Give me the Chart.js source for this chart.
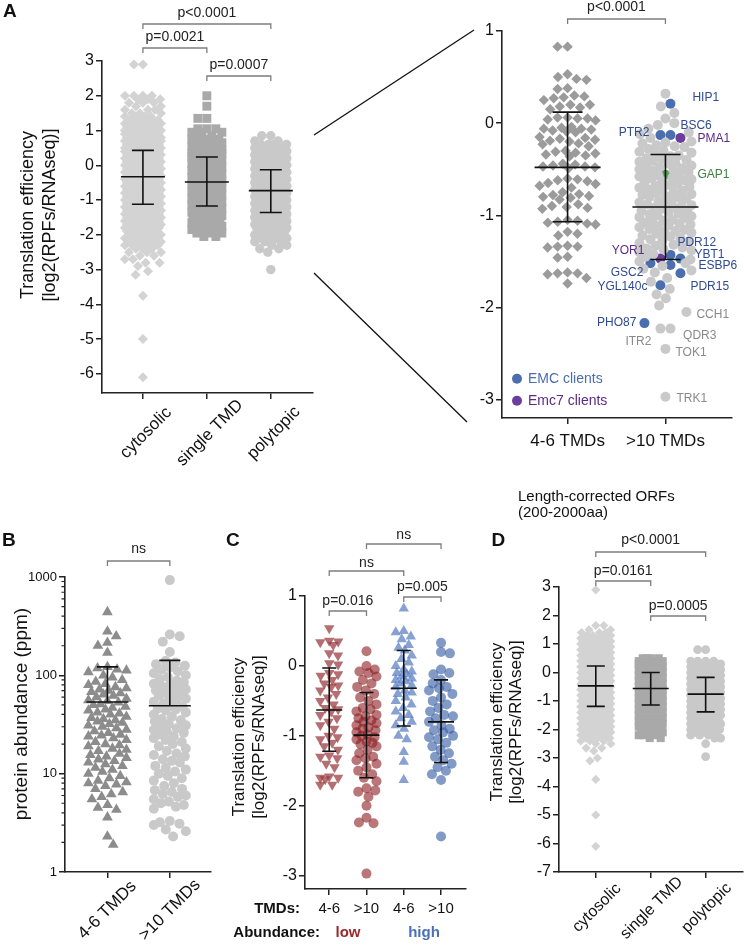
<!DOCTYPE html>
<html><head><meta charset="utf-8">
<script src="https://cdn.jsdelivr.net/npm/chart.js@4.4.0/dist/chart.umd.min.js"></script>
<style>
html,body{margin:0;padding:0;background:#fff;}
#wrap{position:relative;width:744px;height:948px;overflow:hidden;background:#fff;}
#wrap canvas{position:absolute;}
#wrap svg{position:absolute;left:0;top:0;pointer-events:none;}
</style></head>
<body><div id="wrap">
<svg width="744" height="948"><line x1="314" y1="135" x2="474" y2="30" stroke="#111" stroke-width="1.3"/><line x1="314" y1="273" x2="467" y2="422" stroke="#111" stroke-width="1.3"/></svg>
</div>
<script>
// ---------------- DATA ----------------
// Panel A (left) : translation efficiency, value levels and how many genes sit at each level
const aCats = ['cytosolic', 'single TMD', 'polytopic'];
const aTicksY = [3, 2, 1, 0, -1, -2, -3, -4, -5, -6];
const aCytoVal = [2.9, 2.0,1.9,1.8,1.7,1.6,1.5,1.4,1.3,1.2,1.1,1.0,0.9,0.8,0.7,0.6,0.5,0.4,0.3,0.2,0.1,0.0,-0.1,-0.2,-0.3,-0.4,-0.5,-0.6,-0.7,-0.8,-0.9,-1.0,-1.1,-1.2,-1.3,-1.4,-1.5,-1.6,-1.7,-1.8,-1.9,-2.0,-2.1,-2.2,-2.3,-2.4,-2.5,-2.6,-2.7,-2.8,-2.9,-3.05,-3.15,-3.75,-5.0,-6.1];
const aCytoN = [2, 4,3,3,2,3,3,4,5,7,8,9,9, 10,10,10,10,10,10,10,10,10,10,10,10,10,10,10,10,10,10,10,10,10,10,10,10,10, 9,9,8,8,7,6,5,3,3,2,2,2,1, 1,1,1,1,1];
const aSingleVal = [2.0,1.7,1.35,1.05,0.95,0.85,0.75,0.65,0.55,0.45,0.35,0.25,0.15,0.05,-0.05,-0.15,-0.25,-0.35,-0.45,-0.55,-0.65,-0.75,-0.85,-0.95,-1.05,-1.15,-1.25,-1.35,-1.45,-1.55,-1.65,-1.75,-1.85,-1.95,-2.05];
const aSingleN = [1,1,2, 3,3,2,3,4,6,7,8, 9,9,9,9,9,9,9,9,9,9,9,9,9,9,9,9,9,9, 7,6,4,4,3,2];
const aPolyVal = [0.85,0.7,0.6,0.5,0.4,0.3,0.2,0.1,0.0,-0.1,-0.2,-0.3,-0.4,-0.5,-0.6,-0.7,-0.8,-0.9,-1.0,-1.1,-1.2,-1.3,-1.4,-1.5,-1.6,-1.7,-1.8,-1.9,-2.0,-2.1,-2.2,-2.3,-2.4,-2.5,-3.0];
const aPolyN = [2, 2,4,5,6,8, 9,9,9,9,9,9,9,9,9,9,9,9,9,9,9,9,9,9,9, 8,7,6,6,4,3,2,2,1, 1];
const aMean = [-0.33, -0.48, -0.73];
const aSdHi = [0.43, 0.24, -0.13];
const aSdLo = [-1.12, -1.17, -1.36];

// Panel A (right)
const arCats = ['4-6 TMDs', '>10 TMDs'];
const arTicksY = [1, 0, -1, -2, -3];
const arTmd46 = [0.83,0.83,0.53,0.50,0.48,0.47,0.38,0.37,0.30,0.28,0.27,0.25,0.29,0.20,0.18,0.15,0.17,0.20,0.06,0.05,0.04,0.06,0.05,0.03,-0.05,-0.06,-0.08,-0.10,-0.04,-0.07,-0.09,-0.06,-0.15,-0.18,-0.20,-0.22,-0.25,-0.17,-0.19,-0.23,-0.16,-0.30,-0.32,-0.35,-0.33,-0.31,-0.36,-0.34,-0.45,-0.47,-0.48,-0.46,-0.49,-0.47,-0.44,-0.60,-0.62,-0.65,-0.68,-0.70,-0.63,-0.66,-0.61,-0.75,-0.78,-0.80,-0.83,-0.77,-0.81,-0.79,-0.90,-0.92,-0.88,-0.91,-0.93,-1.05,-1.07,-1.10,-1.08,-1.06,-1.09,-1.20,-1.22,-1.18,-1.34,-1.33,-1.35,-1.34,-1.45,-1.46,-1.63,-1.62,-1.64,-1.63,-1.68,-1.74];
const arTmd10 = [0.32,0.18,0.11,0.05,0.00,-0.02,-0.06,-0.10,-0.12,-0.16,-0.20,-0.22,-0.24,-0.21,-0.25,-0.26,-0.30,-0.32,-0.28,-0.35,-0.33,-0.31,-0.36,-0.40,-0.42,-0.38,-0.44,-0.41,-0.39,-0.43,-0.46,-0.48,-0.50,-0.52,-0.47,-0.49,-0.51,-0.53,-0.56,-0.55,-0.58,-0.60,-0.57,-0.62,-0.59,-0.61,-0.63,-0.67,-0.65,-0.68,-0.70,-0.66,-0.72,-0.69,-0.71,-0.73,-0.76,-0.75,-0.78,-0.80,-0.77,-0.82,-0.79,-0.81,-0.83,-0.86,-0.85,-0.88,-0.90,-0.87,-0.92,-0.89,-0.91,-0.93,-0.96,-0.95,-0.98,-1.00,-0.97,-1.02,-0.99,-1.01,-1.03,-1.06,-1.05,-1.08,-1.10,-1.07,-1.12,-1.09,-1.11,-1.13,-1.16,-1.15,-1.18,-1.20,-1.17,-1.22,-1.19,-1.23,-1.26,-1.25,-1.28,-1.30,-1.27,-1.32,-1.33,-1.36,-1.35,-1.38,-1.40,-1.37,-1.42,-1.45,-1.50,-1.48,-1.52,-1.55,-1.58,-1.60,-1.62,-1.68,-1.72,-1.80,-1.86,-1.90,-1.98];
const geneNames = ['HIP1','PTR2','BSC6','PMA1','GAP1','YOR1','PDR12','YBT1','ESBP6','PDR15','GSC2','YGL140c','PHO87','CCH1','QDR3','ITR2','TOK1','TRK1'];
const geneTE = [0.21,-0.13,-0.13,-0.16,-0.56,-1.47,-1.43,-1.47,-1.54,-1.63,-1.52,-1.76,-2.17,-2.05,-2.23,-2.23,-2.45,-2.97];
const geneClass = ['emc','emc','emc','emc7','gap','emc7','emc','emc','emc','emc','emc','emc','emc','none','none','none','none','none'];
const geneSide = ['R','L','R','R','C','L','R','R','R','R','L','L','LL','RR','R','L','C','C'];
const arMean = [-0.48, -0.91];
const arSdHi = [0.12, -0.34];
const arSdLo = [-1.07, -1.48];

// Panel B : protein abundance (ppm)
const bCats = ['4-6 TMDs', '>10 TMDs'];
const bTicksY = [1, 10, 100, 1000];
const bTmd46 = [440,280,250,215,200,170,122,118,115,112,108,100,95,90,86,82,80,76,74,72,70,68,66,64,62,60,58,56,55,53,51,50,48,47,45,44,42,41,40,38,37,36,35,34,33,32,31,30,29,28,27,26,25,24.5,24,23,22,21,20,19.5,19,18,17.5,17,16,15.5,15,14.5,14,13.5,13,12.5,12,11.5,11,10.5,10,9.5,9,8.5,8.2,8,7.8,7.5,7,6.5,6.2,5.8,5.5,4.8,4.5,4.3,3.6,2.3,1.9];
const bTmd10 = [930,260,250,220,173,140,135,130,125,120,115,110,105,100,96,92,88,85,82,80,77,75,72,70,68,66,64,62,60,58,56,54,52,50,48,46,45,44,42,40,38,36,35,34,32,31,30,29,28,27,26,25,24,23,22,21,20,19,18,17,16,15.5,15,14,13.5,13,12,11.5,11,10.5,10,9.5,9,8.5,8,7.5,7,6.8,6.5,6.2,6,5.8,5.5,5.2,5,4.8,4.6,4.4,3.3,3.2,3.1,3.0,2.7,2.6,2.3];
const bMean = [53.5, 49];
const bSdHi = [122, 142];
const bSdLo = [null, null];

// Panel C
const cCats = ['4-6', '>10', '4-6', '>10'];
const cTicksY = [1, 0, -1, -2, -3];
const cLow46 = [0.54,0.36,0.35,0.34,0.30,0.18,0.15,0.04,0.02,-0.10,-0.12,-0.14,-0.20,-0.25,-0.28,-0.30,-0.35,-0.40,-0.45,-0.50,-0.55,-0.60,-0.62,-0.65,-0.70,-0.75,-0.80,-0.85,-0.90,-1.00,-1.02,-1.05,-1.10,-1.15,-1.20,-1.28,-1.30,-1.32,-1.40,-1.45,-1.58,-1.60,-1.60,-1.62,-1.70,-1.70];
const cLow10 = [0.21,0.00,-0.05,-0.08,-0.10,-0.15,-0.20,-0.25,-0.30,-0.35,-0.40,-0.45,-0.50,-0.55,-0.60,-0.62,-0.65,-0.70,-0.72,-0.75,-0.78,-0.80,-0.82,-0.85,-0.88,-0.90,-0.92,-0.95,-0.98,-1.00,-1.02,-1.05,-1.08,-1.10,-1.12,-1.15,-1.20,-1.25,-1.30,-1.32,-1.35,-1.40,-1.45,-1.50,-1.55,-1.60,-1.65,-1.75,-1.78,-1.80,-1.87,-2.00,-2.17,-2.24,-2.25,-2.97];
const cHigh46 = [0.82,0.50,0.48,0.42,0.38,0.30,0.26,0.22,0.15,0.10,0.05,0.00,-0.05,-0.08,-0.10,-0.12,-0.15,-0.18,-0.20,-0.22,-0.25,-0.28,-0.30,-0.35,-0.38,-0.40,-0.45,-0.50,-0.55,-0.60,-0.65,-0.70,-0.75,-0.80,-0.85,-0.90,-1.00,-1.05,-1.23,-1.37,-1.63];
const cHigh10 = [0.33,0.20,0.18,-0.05,-0.10,-0.12,-0.20,-0.25,-0.30,-0.32,-0.35,-0.40,-0.45,-0.50,-0.55,-0.60,-0.65,-0.70,-0.72,-0.75,-0.80,-0.85,-0.90,-0.92,-0.95,-1.00,-1.02,-1.05,-1.10,-1.15,-1.20,-1.25,-1.30,-1.35,-1.40,-1.45,-1.50,-1.55,-1.63,-2.44];
const cMean = [-0.63, -0.99, -0.32, -0.80];
const cSdHi = [-0.03, -0.38, 0.22, -0.20];
const cSdLo = [-1.22, -1.60, -0.86, -1.38];

// Panel D : length-corrected ORFs
const dCats = ['cytosolic', 'single TMD', 'polytopic'];
const dTicksY = [3, 2, 1, 0, -1, -2, -3, -4, -5, -6, -7];
const dCytoVal = [2.9,1.65,1.5,1.4,1.3,1.2, 1.1,1.0,0.9,0.8,0.7,0.6,0.5,0.4,0.3,0.2,0.1,0.0,-0.1,-0.2,-0.3,-0.4,-0.5,-0.6,-0.7,-0.8,-0.9,-1.0,-1.1,-1.2,-1.3,-1.4,-1.5,-1.6,-1.7,-1.8,-1.9,-2.0, -2.1,-2.2,-2.3,-2.4,-2.5,-2.65,-2.75,-3.0,-3.1,-3.75,-5.0,-6.1];
const dCytoN = [1,2,2,3,4,6, 8,8,8,8,8,8,8,8,8,8,8,8,8,8,8,8,8,8,8,8,8,8,8,8,8,8,8,8,8,8,8,8, 7,5,4,3,2,2,1,1,1,1,1,1];
const dSingleVal = [0.5,0.4,0.3,0.2,0.1,0.0,-0.1,-0.2,-0.3,-0.4,-0.5,-0.6,-0.7,-0.8,-0.9,-1.0,-1.1,-1.2,-1.3,-1.4,-1.5,-1.6,-1.7,-1.8,-1.9,-2.0,-2.1,-2.2,-2.3];
const dSingleN = [4,6, 7,7,7,7,7,7,7,7,7,7,7,7,7,7,7,7,7,7,7,7,7,7,7, 5,4,3,2];
const dPolyVal = [0.8,0.4,0.3, 0.2,0.1,0.0,-0.1,-0.2,-0.3,-0.4,-0.5,-0.6,-0.7,-0.8,-0.9,-1.0,-1.1,-1.2,-1.3,-1.4,-1.5,-1.6, -1.7,-1.8,-1.9,-2.0,-2.1,-2.2,-2.3,-2.5,-2.95];
const dPolyN = [2,4,6, 7,7,7,7,7,7,7,7,7,7,7,7,7,7,7,7,7,7,7, 6,5,5,5,4,3,2,1,1];
const dMean = [-0.47, -0.56, -0.76];
const dSdHi = [0.23, 0.0, -0.17];
const dSdLo = [-1.19, -1.14, -1.38];

// ---------------- HELPERS ----------------
const FONT = '"Liberation Sans", Arial, Helvetica, sans-serif';
Chart.defaults.font.family = FONT;
Chart.defaults.color = '#111';
const wrap = document.getElementById('wrap');

function expand(vals, counts) {
  const out = [];
  vals.forEach((v, i) => { const n = counts ? counts[i] : 1; for (let k = 0; k < n; k++) out.push(v); });
  return out;
}

const classPoint = { emc: '#4b6fae', emc7: '#6c3d9c', gap: '#5f9e5f', none: '#c9c9c9' };
const classText = { emc: '#2f4a92', emc7: '#5b2a86', gap: '#3f7f3f', none: '#8a8a8a' };

function mkds(vals, cat, style, color, r, extra) {
  return Object.assign({
    vals: vals, cat: cat,
    data: vals.map(v => ({ x: cat, y: v })),
    pointStyle: style, pointRadius: r, pointHoverRadius: r,
    pointBackgroundColor: color, pointBorderWidth: 0, pointBorderColor: 'rgba(0,0,0,0)',
    clip: false
  }, extra || {});
}

// beeswarm layout in pixel space (layout only, values untouched)
function swarm(entries, d, half) {
  const n = entries.length, off = new Array(n).fill(null), placed = [];
  const d2 = d * d, s = d / 2;
  function collides(c, i) {
    for (const j of placed) {
      const dy = entries[i].py - entries[j].py;
      if (Math.abs(dy) >= d) continue;
      const dx = c - off[j];
      if (dx * dx + dy * dy < d2 - 0.05) return true;
    }
    return false;
  }
  entries.forEach((e, i) => {
    if (!e.side) return;
    let c = 0;
    for (let k = 0; k < 30; k++) {
      if (e.side === 'R') c = (k + 1) * s;
      else if (e.side === 'L') c = -(k + 1) * s;
      else if (e.side === 'RR') c = (half - s) + k * s;
      else if (e.side === 'LL') c = -(half - s) - k * s;
      else c = (k % 2 ? 1 : -1) * Math.ceil(k / 2) * s;
      if (!collides(c, i)) break;
    }
    off[i] = c; placed.push(i);
  });
  const order = [];
  for (let i = 0; i < n; i++) if (off[i] === null) order.push(i);
  order.sort((a, b) => entries[a].py - entries[b].py || a - b);
  let flip = 1;
  for (const i of order) {
    const nb = [];
    for (const j of placed) { const dy = entries[i].py - entries[j].py; if (Math.abs(dy) < d) nb.push([off[j], dy]); }
    const cands = [0];
    for (const [xj, dy] of nb) { const dx = Math.sqrt(d2 - dy * dy) + 0.01; cands.push(xj + dx, xj - dx); }
    cands.sort((a, b) => (Math.abs(a) - Math.abs(b)) || (flip > 0 ? b - a : a - b));
    let best = null;
    for (const c of cands) {
      if (Math.abs(c) > half) continue;
      let ok = true;
      for (const [xj, dy] of nb) { if ((c - xj) * (c - xj) + dy * dy < d2 - 0.05) { ok = false; break; } }
      if (ok) { best = c; break; }
    }
    if (best === null) {
      let bestScore = -1; best = 0;
      for (let c = -half; c <= half + 1e-6; c += 1) {
        let m = Infinity;
        for (const [xj, dy] of nb) { const dd = (c - xj) * (c - xj) + dy * dy; if (dd < m) m = dd; }
        if (m > bestScore + 1e-9 || (Math.abs(m - bestScore) < 1e-9 && Math.abs(c) < Math.abs(best))) { bestScore = m; best = c; }
      }
    }
    off[i] = best; placed.push(i); flip = -flip;
  }
  return off;
}

function layoutSwarms(chart, groups) {
  const xs = chart.scales.x, ys = chart.scales.y;
  groups.forEach(g => {
    const entries = [];
    g.members.forEach(m => {
      const ds = chart.data.datasets[m];
      ds.vals.forEach((v, k) => entries.push({ m, k, py: ys.getPixelForValue(v), side: ds.sides ? ds.sides[k] : null }));
    });
    const offs = swarm(entries, g.d, g.half);
    const newData = {};
    g.members.forEach(m => { newData[m] = chart.data.datasets[m].data.slice(); });
    entries.forEach((e, idx) => {
      const ds = chart.data.datasets[e.m];
      const cx = xs.getPixelForValue(ds.cat);
      newData[e.m][e.k] = { x: xs.getValueForPixel(cx + offs[idx]), y: ds.vals[e.k] };
    });
    g.members.forEach(m => { chart.data.datasets[m].data = newData[m]; });
  });
  chart.update('none');
}

const deco = {
  id: 'deco',
  afterDatasetsDraw(chart) {
    const o = chart.options.plugins.deco;
    if (!o) return;
    const ctx = chart.ctx, xs = chart.scales.x, ys = chart.scales.y, R = o.rect, ca = chart.chartArea;
    ctx.save();
    if (o.minorLog) {
      ctx.strokeStyle = '#222'; ctx.lineWidth = 1.2; ctx.beginPath();
      for (let e = 0; e < 3; e++) for (let m = 2; m <= 9; m++) {
        const p = ys.getPixelForValue(m * Math.pow(10, e));
        ctx.moveTo(ca.left - 3.5, p); ctx.lineTo(ca.left, p);
      }
      ctx.stroke();
    }
    if (o.ms) {
      ctx.strokeStyle = '#111'; ctx.lineWidth = 1.6;
      o.ms.mean.forEach((mv, i) => {
        const cx = xs.getPixelForValue(o.cats[i]);
        const pm = ys.getPixelForValue(mv);
        const ph = ys.getPixelForValue(o.ms.hi[i]);
        const hasLo = o.ms.lo[i] !== null && o.ms.lo[i] !== undefined;
        const pl = hasLo ? ys.getPixelForValue(o.ms.lo[i]) : pm;
        ctx.beginPath();
        ctx.moveTo(cx - o.ms.w, pm); ctx.lineTo(cx + o.ms.w, pm);
        ctx.moveTo(cx, ph); ctx.lineTo(cx, pl);
        ctx.moveTo(cx - o.ms.cap, ph); ctx.lineTo(cx + o.ms.cap, ph);
        if (hasLo) { ctx.moveTo(cx - o.ms.cap, pl); ctx.lineTo(cx + o.ms.cap, pl); }
        ctx.stroke();
      });
    }
    if (o.genes) {
      const meta = chart.getDatasetMeta(o.genes.ds);
      ctx.font = '12px ' + FONT; ctx.textBaseline = 'middle';
      o.genes.names.forEach((nm, k) => {
        const el = meta.data[k]; if (!el) return;
        const dx = o.genes.dx[k], dy = o.genes.dy[k];
        ctx.fillStyle = o.genes.colors[k];
        ctx.textAlign = dx < 0 ? 'right' : 'left';
        ctx.fillText(nm, el.x + dx, el.y + dy);
      });
    }
    if (o.catLabels) {
      const L = o.catLabels;
      ctx.font = (L.bold ? 'bold ' : '') + L.size + 'px ' + FONT; ctx.fillStyle = '#111';
      ctx.textAlign = 'center'; ctx.textBaseline = 'middle';
      o.cats.forEach((c, i) => {
        const px = xs.getPixelForValue(c) + (L.dx || 0), py = ca.bottom + L.dy;
        ctx.save(); ctx.translate(px, py); if (L.rot) ctx.rotate(-Math.PI / 4);
        ctx.fillText(L.labels[i], 0, 0); ctx.restore();
      });
    }
    if (o.brackets) {
      o.brackets.forEach(b => {
        const x1 = xs.getPixelForValue(b.a), x2 = xs.getPixelForValue(b.b), y = b.y - R.y;
        ctx.strokeStyle = '#7d7d7d'; ctx.lineWidth = 1.3;
        ctx.beginPath(); ctx.moveTo(x1, y + 5); ctx.lineTo(x1, y); ctx.lineTo(x2, y); ctx.lineTo(x2, y + 5); ctx.stroke();
        ctx.fillStyle = '#222'; ctx.font = '14px ' + FONT; ctx.textAlign = 'center'; ctx.textBaseline = 'middle';
        ctx.fillText(b.t, (x1 + x2) / 2, b.ty - R.y);
      });
    }
    ctx.translate(-R.x, -R.y);
    (o.texts || []).forEach(t => {
      if (t.dot) {
        ctx.fillStyle = t.color; ctx.beginPath(); ctx.arc(t.x, t.y, t.r, 0, Math.PI * 2); ctx.fill(); return;
      }
      ctx.save();
      ctx.font = (t.bold ? 'bold ' : '') + (t.size || 14) + 'px ' + FONT;
      ctx.fillStyle = t.color || '#111'; ctx.textAlign = t.align || 'center'; ctx.textBaseline = 'middle';
      ctx.translate(t.x, t.y); if (t.rot) ctx.rotate(t.rot * Math.PI / 180);
      ctx.fillText(t.s, 0, 0); ctx.restore();
    });
    ctx.restore();
  }
};

function panel(rect, area, cfg) {
  const cv = document.createElement('canvas');
  cv.width = rect.w; cv.height = rect.h;
  cv.style.left = rect.x + 'px'; cv.style.top = rect.y + 'px';
  cv.style.width = rect.w + 'px'; cv.style.height = rect.h + 'px';
  wrap.appendChild(cv);
  const axisCommon = {
    grid: { drawOnChartArea: false, drawTicks: true, tickLength: 6, tickColor: '#222', tickWidth: 1.5, lineWidth: 1.5, color: '#222' },
    border: { display: true, color: '#222', width: 1.6 }
  };
  const chart = new Chart(cv, {
    type: 'scatter',
    data: { datasets: cfg.datasets },
    options: {
      responsive: false, animation: false, devicePixelRatio: 1,
      events: [],
      layout: { autoPadding: false, padding: { left: 0, top: area.t - rect.y, right: rect.x + rect.w - area.r, bottom: 0 } },
      plugins: { legend: { display: false }, tooltip: { enabled: false }, deco: Object.assign({ rect: rect, cats: cfg.xcats }, cfg.deco) },
      scales: {
        x: Object.assign({
          type: 'linear', min: cfg.xmin, max: cfg.xmax,
          afterBuildTicks: s => { s.ticks = cfg.xcats.map(v => ({ value: v })); },
          afterFit: s => { s.height = rect.y + rect.h - area.b; s.paddingLeft = 0; s.paddingRight = 0; },
          ticks: { display: false }
        }, axisCommon),
        y: Object.assign({
          type: cfg.ylog ? 'logarithmic' : 'linear', min: cfg.ymin, max: cfg.ymax,
          afterBuildTicks: s => { s.ticks = cfg.yticks.map(v => ({ value: v })); },
          afterFit: s => { s.width = area.l - rect.x; s.paddingTop = 0; s.paddingBottom = 0; },
          ticks: { color: '#111', font: { size: cfg.tickSize }, padding: 2, autoSkip: false, callback: v => String(v) }
        }, axisCommon)
      }
    },
    plugins: [deco]
  });
  layoutSwarms(chart, cfg.groups);
  return chart;
}

// ---------------- PANEL A (left) ----------------
panel({ x: 0, y: 0, w: 320, h: 470 }, { l: 102, t: 61, r: 313, b: 393 }, {
  xmin: 0.36, xmax: 3.66, ymin: -6.55, ymax: 3, yticks: aTicksY, tickSize: 16, xcats: [1, 2, 3],
  datasets: [
    mkds(expand(aCytoVal, aCytoN), 1, 'rectRot', '#d3d3d3', 5),
    mkds(expand(aSingleVal, aSingleN), 2, 'rect', '#a9a9a9', 6.3),
    mkds(expand(aPolyVal, aPolyN), 3, 'circle', '#c9c9c9', 4.7)
  ],
  groups: [{ members: [0], d: 9, half: 18 }, { members: [1], d: 9, half: 15 }, { members: [2], d: 9, half: 16 }],
  deco: {
    catLabels: { labels: aCats, rot: true, dy: 40, dx: 3, size: 17 },
    ms: { mean: aMean, hi: aSdHi, lo: aSdLo, w: 22, cap: 11 },
    brackets: [
      { a: 1, b: 3, y: 24, t: 'p<0.0001', ty: 13 },
      { a: 1, b: 2, y: 48, t: 'p=0.0021', ty: 37 },
      { a: 2, b: 3, y: 76, t: 'p=0.0007', ty: 65 }
    ],
    texts: [
      { s: 'A', x: 3, y: 12, size: 19, bold: true, align: 'left' },
      { s: 'Translation efficiency', x: 28, y: 215, size: 18, rot: -90 },
      { s: '[log2(RPFs/RNAseq)]', x: 50, y: 215, size: 18, rot: -90 }
    ]
  }
});

// ---------------- PANEL A (right) ----------------
panel({ x: 320, y: 0, w: 424, h: 470 }, { l: 502, t: 31, r: 732, b: 418 }, {
  xmin: 0.33, xmax: 2.68, ymin: -3.2, ymax: 1, yticks: arTicksY, tickSize: 16, xcats: [1, 2],
  datasets: [
    mkds(arTmd46, 1, 'rectRot', '#9b9b9b', 5.2),
    mkds(arTmd10, 2, 'circle', '#c9c9c9', 5),
    mkds(geneTE, 2, 'circle', geneClass.map(c => classPoint[c]), 5, { sides: geneSide })
  ],
  groups: [{ members: [0], d: 10, half: 28 }, { members: [1, 2], d: 10, half: 26 }],
  deco: {
    catLabels: { labels: arCats, rot: false, dy: 23.5, size: 17 },
    ms: { mean: arMean, hi: arSdHi, lo: arSdLo, w: 33, cap: 15 },
    brackets: [{ a: 1, b: 2, y: 19, t: 'p<0.0001', ty: 7 }],
    genes: {
      ds: 2, names: geneNames, colors: geneClass.map(c => classText[c]),
      dx: [22, -11, 10, 17, 32, -16, 7, 14, 28, 10, -7, -13, -8, 10, 12.6, -9, 10, 11],
      dy: [-6, -2, -9, 1, 0, -8, -12, -4, 1, 13, 9, 1, 0, 3, 7, 13, 4, 2]
    },
    texts: [
      { dot: true, x: 517, y: 378.7, r: 5, color: classPoint.emc },
      { s: 'EMC clients', x: 528, y: 379, size: 14, align: 'left', color: '#4a6db0' },
      { dot: true, x: 517, y: 400.7, r: 5, color: classPoint.emc7 },
      { s: 'Emc7 clients', x: 528, y: 401, size: 14, align: 'left', color: '#5b2a86' }
    ]
  }
});

// ---------------- PANEL B ----------------
panel({ x: 0, y: 470, w: 215, h: 478 }, { l: 65, t: 577, r: 211, b: 872 }, {
  xmin: 0.32, xmax: 2.66, ymin: 1, ymax: 1000, ylog: true, yticks: bTicksY, tickSize: 13, xcats: [1, 2],
  datasets: [
    mkds(bTmd46, 1, 'triangle', '#8c8c8c', 6.2),
    mkds(bTmd10, 2, 'circle', '#c9c9c9', 5)
  ],
  groups: [{ members: [0], d: 10, half: 19 }, { members: [1], d: 10, half: 16 }],
  deco: {
    minorLog: true,
    catLabels: { labels: bCats, rot: true, dy: 38, dx: 0, size: 17 },
    ms: { mean: bMean, hi: bSdHi, lo: bSdLo, w: 21, cap: 10.5 },
    brackets: [{ a: 1, b: 2, y: 561, t: 'ns', ty: 549 }],
    texts: [
      { s: 'B', x: 2, y: 541, size: 19, bold: true, align: 'left' },
      { s: 'protein abundance (ppm)', x: 22, y: 714, size: 19, rot: -90 }
    ]
  }
});

// ---------------- PANEL C ----------------
panel({ x: 215, y: 470, w: 265, h: 478 }, { l: 305, t: 596, r: 466, b: 889 }, {
  xmin: 0.35, xmax: 4.67, ymin: -3.19, ymax: 1, yticks: cTicksY, tickSize: 16, xcats: [1, 2, 3, 4],
  datasets: [
    mkds(cLow46, 1, 'triangle', 'rgba(150,55,60,0.72)', 6, { pointRotation: 180 }),
    mkds(cLow10, 2, 'circle', 'rgba(139,28,32,0.6)', 5),
    mkds(cHigh46, 3, 'triangle', 'rgba(88,125,192,0.72)', 6),
    mkds(cHigh10, 4, 'circle', 'rgba(46,86,160,0.6)', 5)
  ],
  groups: [{ members: [0], d: 9, half: 9 }, { members: [1], d: 9, half: 10 }, { members: [2], d: 9, half: 8 }, { members: [3], d: 9, half: 12 }],
  deco: {
    catLabels: { labels: cCats, rot: false, dy: 20, size: 15 },
    ms: { mean: cMean, hi: cSdHi, lo: cSdLo, w: 13, cap: 7 },
    brackets: [
      { a: 1, b: 2, y: 611, t: 'p=0.016', ty: 601 },
      { a: 3, b: 4, y: 597, t: 'p=0.005', ty: 587 },
      { a: 1, b: 3, y: 571, t: 'ns', ty: 563 },
      { a: 2, b: 4, y: 544, t: 'ns', ty: 535 }
    ],
    texts: [
      { s: 'C', x: 226, y: 541, size: 19, bold: true, align: 'left' },
      { s: 'Translation efficiency', x: 239, y: 737, size: 17, rot: -90 },
      { s: '[log2(RPFs/RNAseq)]', x: 259, y: 737, size: 17, rot: -90 },
      { s: 'TMDs:', x: 300, y: 909, size: 15, bold: true, align: 'right' },
      { s: 'Abundance:', x: 320, y: 933, size: 15, bold: true, align: 'right' },
      { s: 'low', x: 348, y: 933, size: 15, bold: true, color: '#9b2a2c' },
      { s: 'high', x: 424, y: 933, size: 15, bold: true, color: '#4a70b6' }
    ]
  }
});

// ---------------- PANEL D ----------------
panel({ x: 480, y: 470, w: 264, h: 478 }, { l: 559, t: 587, r: 743, b: 872 }, {
  xmin: 0.33, xmax: 3.68, ymin: -7, ymax: 3, yticks: dTicksY, tickSize: 16, xcats: [1, 2, 3],
  datasets: [
    mkds(expand(dCytoVal, dCytoN), 1, 'rectRot', '#d3d3d3', 4.6),
    mkds(expand(dSingleVal, dSingleN), 2, 'rect', '#a9a9a9', 5.7),
    mkds(expand(dPolyVal, dPolyN), 3, 'circle', '#c9c9c9', 4.4)
  ],
  groups: [{ members: [0], d: 8, half: 15 }, { members: [1], d: 8, half: 12 }, { members: [2], d: 8, half: 15 }],
  deco: {
    catLabels: { labels: dCats, rot: true, dy: 36, dx: 1, size: 16 },
    ms: { mean: dMean, hi: dSdHi, lo: dSdLo, w: 18, cap: 9 },
    brackets: [
      { a: 1, b: 3, y: 552, t: 'p<0.0001', ty: 540 },
      { a: 1, b: 2, y: 581, t: 'p=0.0161', ty: 571 },
      { a: 2, b: 3, y: 616, t: 'p=0.0005', ty: 606 }
    ],
    texts: [
      { s: 'D', x: 491.5, y: 541, size: 19, bold: true, align: 'left' },
      { s: 'Length-corrected ORFs', x: 518, y: 497, size: 15, align: 'left' },
      { s: '(200-2000aa)', x: 518, y: 513, size: 15, align: 'left' },
      { s: 'Translation efficiency', x: 497.5, y: 722, size: 17, rot: -90 },
      { s: '[log2(RPFs/RNAseq)]', x: 516, y: 722, size: 17, rot: -90 }
    ]
  }
});
</script>
</body></html>
